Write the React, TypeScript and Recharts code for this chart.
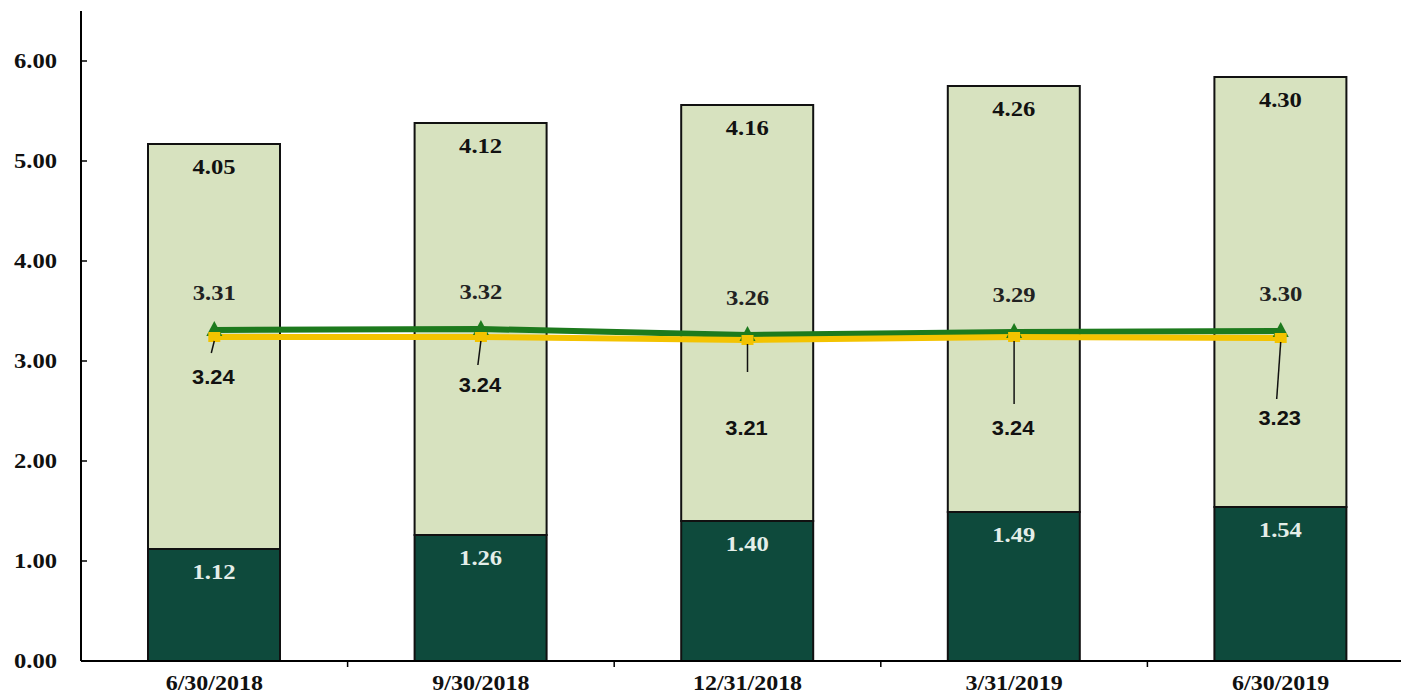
import { Bar, ComposedChart, Line, XAxis, YAxis, LabelList } from "recharts"

const periods = ["6/30/2018", "9/30/2018", "12/31/2018", "3/31/2019", "6/30/2019"]
const baseValues = [1.12, 1.26, 1.4, 1.49, 1.54]
const upperValues = [4.05, 4.12, 4.16, 4.26, 4.3]
const greenValues = [3.31, 3.32, 3.26, 3.29, 3.3]
const yellowValues = [3.24, 3.24, 3.21, 3.24, 3.23]
const yTicks = [0, 1, 2, 3, 4, 5, 6]

// label placement for the yellow series (leader lines)
const yellowLabelDy = [40, 48, 88, 91, 80]
const yellowLeaderLen = [12, 24, 28, 63, 57]
const yellowLeaderDx = [-3, -3, 0, 0, -4]

const data = periods.map((p, i) => ({
  period: p,
  base: baseValues[i],
  upper: upperValues[i],
  green: greenValues[i],
  yellow: yellowValues[i],
}))

const W = 1420
const H = 698
const margin = { top: 11, right: 6, bottom: 0, left: 0 }
const yAxisW = 81
const band = (W - margin.left - margin.right - yAxisW) / periods.length

const serif = "'Liberation Serif', 'Times New Roman', serif"
const sans = "'Liberation Sans', Arial, sans-serif"

const GREEN = "#1d7a1d"
const YELLOW = "#f3c300"
const DARK = "#0e4a3c"
const LIGHT = "#d7e2bf"

// the source text is a bit wider than it is tall, so stretch it sideways
function SText({ x, y, sx = 1.2, anchor = "middle", family = serif, size = 20.5, color = "#111", children }: any) {
  return (
    <text
      transform={`translate(${x},${y}) scale(${sx},1)`}
      textAnchor={anchor}
      fontFamily={family}
      fontWeight="bold"
      fontSize={size}
      fill={color}
    >
      {children}
    </text>
  )
}

function XTick(props: any) {
  const { x, y, payload, index } = props
  return (
    <g>
      {index > 0 && <line x1={x - band / 2} x2={x - band / 2} y1={y} y2={y + 6} stroke="#000" strokeWidth={1.5} />}
      <SText x={x} y={y + 29} sx={1.17}>
        {payload.value}
      </SText>
    </g>
  )
}

function YTick(props: any) {
  const { x, y, payload } = props
  return (
    <g>
      <line x1={x + 24} x2={x + 30} y1={y} y2={y} stroke="#000" strokeWidth={1.5} />
      <SText x={x} y={y + 7} anchor="end">
        {payload.value.toFixed(2)}
      </SText>
    </g>
  )
}

function Triangle(props: any) {
  const { cx, cy } = props
  if (cx == null || cy == null) return null
  return <path d={`M${cx},${cy - 9} L${cx + 8},${cy + 6} L${cx - 8},${cy + 6} Z`} fill={GREEN} />
}

function Square(props: any) {
  const { cx, cy } = props
  if (cx == null || cy == null) return null
  return <rect x={cx - 6} y={cy - 5} width={12} height={10} fill={YELLOW} />
}

function BarTopLabel(props: any) {
  const { x, y, width, value, textColor } = props
  return (
    <SText x={x + width / 2} y={y + 30} color={textColor}>
      {Number(value).toFixed(2)}
    </SText>
  )
}

function GreenLabel(props: any) {
  const { x, y, value } = props
  return (
    <SText x={x} y={y - 30} color="#222">
      {Number(value).toFixed(2)}
    </SText>
  )
}

function YellowLabel(props: any) {
  const { x, y, value, index } = props
  return (
    <g>
      <line
        x1={x}
        y1={y + 4}
        x2={x + yellowLeaderDx[index]}
        y2={y + 4 + yellowLeaderLen[index]}
        stroke="#111"
        strokeWidth={1.5}
      />
      <SText x={x - 1} y={y + yellowLabelDy[index] + 7} family={sans} size={19.5} sx={1.12}>
        {Number(value).toFixed(2)}
      </SText>
    </g>
  )
}

export default function App() {
  return (
    <div style={{ position: "absolute", left: 0, top: 0, width: 1401, height: 698, overflow: "hidden", background: "#fff" }}>
      <ComposedChart width={W} height={H} data={data} margin={margin}>
        <XAxis
          dataKey="period"
          height={37}
          axisLine={{ stroke: "#000", strokeWidth: 2 }}
          tickLine={false}
          tickSize={0}
          tickMargin={0}
          interval={0}
          tick={<XTick />}
        />
        <YAxis
          width={yAxisW}
          domain={[0, 6.5]}
          ticks={yTicks}
          axisLine={{ stroke: "#000", strokeWidth: 2 }}
          tickLine={false}
          tickSize={0}
          tickMargin={24}
          tick={<YTick />}
        />
        <Bar dataKey="base" stackId="a" fill={DARK} stroke="#111" strokeWidth={2} barSize={132} isAnimationActive={false}>
          <LabelList dataKey="base" content={<BarTopLabel textColor="#e4eee9" />} />
        </Bar>
        <Bar dataKey="upper" stackId="a" fill={LIGHT} stroke="#111" strokeWidth={2} barSize={132} isAnimationActive={false}>
          <LabelList dataKey="upper" content={<BarTopLabel textColor="#111" />} />
        </Bar>
        <Line dataKey="green" stroke={GREEN} strokeWidth={6} dot={<Triangle />} activeDot={false} isAnimationActive={false}>
          <LabelList dataKey="green" content={<GreenLabel />} />
        </Line>
        <Line dataKey="yellow" stroke={YELLOW} strokeWidth={6} dot={<Square />} activeDot={false} isAnimationActive={false}>
          <LabelList dataKey="yellow" content={<YellowLabel />} />
        </Line>
      </ComposedChart>
    </div>
  )
}
